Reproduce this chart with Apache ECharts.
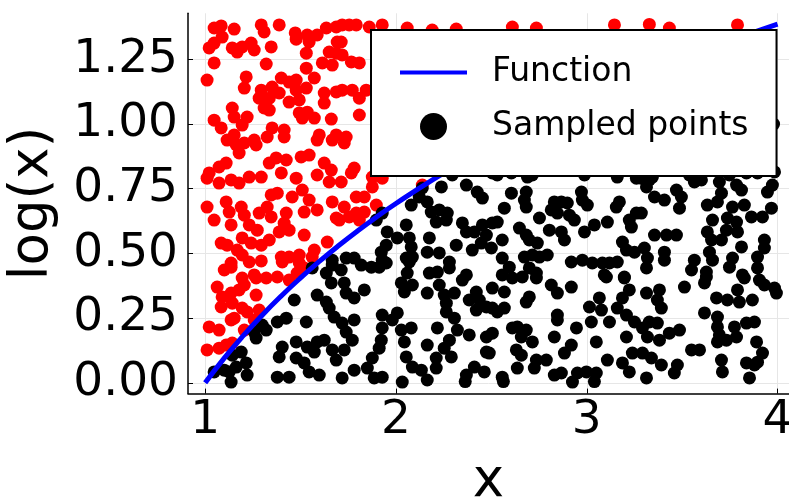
<!DOCTYPE html>
<html>
<head>
<meta charset="utf-8">
<script src="https://cdn.jsdelivr.net/npm/echarts@6/dist/echarts.min.js"></script>
<style>html,body{margin:0;background:#fff}#chart{width:789px;height:498px}</style>
</head>
<body>
<div id="chart"></div>
<script>
// log(x)
var lineX = [1.0, 1.1, 1.2, 1.3, 1.4, 1.5, 1.6, 1.7, 1.8, 1.9, 2.0, 2.2, 2.4, 2.6, 2.8, 3.0, 3.2, 3.4, 3.6, 3.8, 4.0];
var lineY = [0, 0.0953, 0.1823, 0.2624, 0.3365, 0.4055, 0.47, 0.5306, 0.5878, 0.6419, 0.6931, 0.7885, 0.8755, 0.9555, 1.0296, 1.0986, 1.1632, 1.2238, 1.2809, 1.335, 1.3863];

// points above the curve (red)
var redPoints = [
[1.047,1.371],[1.084,1.379],[1.089,1.336],[1.152,1.367],[1.021,1.294],[1.047,1.313],[1.142,1.294],[1.168,1.278],[1.194,1.298],[1.241,1.313],
[1.257,1.286],[1.294,1.383],[1.309,1.356],[1.388,1.383],[1.346,1.298],[1.472,1.352],[1.477,1.328],[1.535,1.344],[1.545,1.317],[1.587,1.344],
[1.635,1.371],[1.687,1.375],[1.692,1.317],[1.530,1.274],[1.650,1.278],[1.687,1.274],[1.047,1.236],[1.320,1.232],[1.614,1.236],[1.666,1.228],
[1.530,1.216],[1.010,1.170],[1.215,1.182],[1.205,1.139],[1.572,1.178],[1.530,1.139],[1.399,1.178],[1.351,1.143],[1.294,1.131],[1.283,1.100],
[1.336,1.100],[1.388,1.120],[1.440,1.162],[1.477,1.170],[1.477,1.131],[1.440,1.085],[1.493,1.093],[1.687,1.124],[1.624,1.120],[1.624,1.081],
[1.142,1.062],[1.152,1.027],[1.220,1.027],[1.194,0.996],[1.047,1.015],[1.084,0.985],[1.309,1.062],[1.336,1.054],[1.493,1.043],[1.535,1.046],
[1.509,1.023],[1.572,1.023],[1.661,1.019],[1.351,0.985],[1.414,0.977],[1.598,0.958],[1.687,0.958],[1.152,0.958],[1.257,0.938],
[1.718,1.383],[1.755,1.383],[1.792,1.383],[1.860,1.375],[1.928,1.383],[2.059,1.371],[2.190,1.363],[1.713,1.317],[1.718,1.267],[1.766,1.240],
[1.808,1.236],[1.718,1.131],[1.771,1.131],[1.808,1.100],[1.844,1.131],[1.808,1.035],[1.739,0.950],
[2.610,1.375],[2.736,1.371],[3.145,1.383],[3.328,1.385],[3.433,1.371],[3.790,1.383],[2.316,1.367],
[1.115,0.938],[1.163,0.919],[1.205,0.927],[1.267,0.919],[1.325,0.950],[1.414,0.950],[1.178,0.888],[1.587,0.938],[1.666,0.938],[1.073,0.834],
[1.110,0.849],[1.021,0.811],[1.010,0.791],[1.073,0.772],[1.136,0.784],[1.178,0.772],[1.231,0.795],[1.294,0.795],[1.336,0.849],[1.372,0.869],
[1.425,0.861],[1.399,0.811],[1.503,0.873],[1.545,0.880],[1.624,0.849],[1.661,0.822],[1.587,0.803],[1.477,0.791],[1.650,0.776],[1.509,0.745],
[1.456,0.718],[1.346,0.726],[1.378,0.733],[1.010,0.679],[1.047,0.629],[1.110,0.699],[1.126,0.660],[1.189,0.679],[1.205,0.648],[1.283,0.656],
[1.325,0.679],[1.346,0.641],[1.425,0.656],[1.414,0.617],[1.519,0.660],[1.545,0.706],[1.587,0.668],[1.666,0.699],[1.687,0.637],[1.136,0.610],
[1.231,0.610],[1.273,0.590],[1.388,0.583],[1.440,0.590],[1.519,0.571],[1.084,0.540],[1.115,0.532],[1.194,0.560],[1.241,0.540],[1.294,0.532],
[1.336,0.552],[1.168,0.513],[1.194,0.494],[1.640,0.544],[1.399,0.486],[1.440,0.486],[1.493,0.494],[1.572,0.513],[1.561,0.486],[1.231,0.467],
[1.294,0.471],[1.136,0.463],
[1.100,0.436],[1.136,0.447],[1.404,0.467],[1.493,0.463],[1.257,0.417],[1.194,0.405],[1.063,0.370],[1.089,0.332],[1.136,0.347],[1.178,0.359],
[1.205,0.378],[1.267,0.405],[1.320,0.405],[1.378,0.409],[1.440,0.397],[1.482,0.424],[1.519,0.444],[1.084,0.293],[1.142,0.308],[1.267,0.339],
[1.194,0.289],[1.220,0.274],[1.283,0.281],[1.021,0.216],[1.073,0.204],[1.136,0.243],[1.152,0.250],[1.205,0.204],[1.257,0.243],[1.010,0.127],
[1.073,0.134],[1.110,0.146],[1.142,0.154],
[1.729,0.927],[1.781,0.830],[1.766,0.811],[1.713,0.776],[1.876,0.795],[1.928,0.791],[1.902,0.822],[1.876,0.757],[1.792,0.718],[1.834,0.718],
[1.729,0.679],[1.792,0.656],[1.834,0.660],[1.897,0.687],[1.703,0.629],[1.808,0.629],[1.755,0.641],[2.080,0.830],[2.122,0.830],[2.138,0.764]
];

// points below the curve (black)
var blackPoints = [
[1.561,0.444],[1.635,0.424],[1.661,0.386],[1.666,0.455],[1.467,0.320],[1.587,0.339],[1.635,0.312],[1.650,0.289],[1.676,0.254],[1.425,0.250],
[1.378,0.235],[1.530,0.235],[1.299,0.223],[1.257,0.196],[1.320,0.204],[1.267,0.173],[1.404,0.138],[1.477,0.158],[1.388,0.100],[1.477,0.096],
[1.519,0.077],[1.535,0.138],[1.587,0.158],[1.624,0.165],[1.572,0.119],[1.666,0.127],[1.687,0.088],[1.598,0.030],[1.545,0.042],[1.440,0.022],
[1.378,0.022],[1.189,0.119],[1.142,0.107],[1.215,0.077],[1.163,0.061],[1.126,0.042],[1.136,0.003],[1.220,0.030],[1.047,0.042],[1.100,0.049],
[1.666,0.474],
[2.138,0.753],[2.122,0.718],[2.080,0.687],[2.238,0.757],[2.295,0.803],[2.348,0.822],[2.400,0.822],[2.369,0.764],[2.426,0.737],[2.453,0.714],
[2.164,0.699],[2.185,0.660],[2.227,0.668],[2.269,0.656],[2.211,0.621],[2.264,0.629],[1.928,0.656],[1.897,0.629],[2.054,0.610],[2.348,0.618],
[2.369,0.583],[2.411,0.583],[2.453,0.610],[2.474,0.571],[1.954,0.583],[2.007,0.560],[2.070,0.560],[2.080,0.525],[2.175,0.560],[1.949,0.532],
[2.164,0.505],[2.227,0.502],[2.316,0.532],[2.400,0.513],[2.447,0.540],[1.923,0.505],[1.928,0.474],[2.054,0.482],[2.086,0.486],[2.280,0.467],
[1.739,0.482],[1.781,0.482],
[1.713,0.436],[1.818,0.455],[1.871,0.447],[1.912,0.447],[1.949,0.463],[2.070,0.467],[2.059,0.424],[2.028,0.386],[2.086,0.378],[2.044,0.351],
[1.729,0.386],[1.739,0.347],[1.781,0.328],[1.834,0.359],[2.175,0.424],[2.217,0.428],[2.280,0.444],[2.369,0.417],[2.348,0.397],[2.227,0.378],
[2.164,0.347],[2.253,0.339],[2.306,0.347],[2.264,0.308],[2.384,0.320],[2.421,0.351],[2.437,0.320],[2.421,0.281],[2.474,0.293],[2.264,0.274],
[2.306,0.250],[1.928,0.262],[1.981,0.243],[2.007,0.270],[1.781,0.243],[1.718,0.231],[1.739,0.196],[1.771,0.165],[1.729,0.127],[1.928,0.212],
[1.923,0.165],[1.912,0.134],[1.876,0.096],[1.850,0.057],[1.781,0.049],[1.718,0.019],[1.886,0.019],[1.928,0.022],[2.028,0.204],[2.080,0.212],
[2.044,0.158],[2.054,0.100],[2.086,0.061],[2.133,0.049],[2.164,0.011],[2.033,0.003],[2.164,0.146],[2.211,0.096],[2.217,0.212],[2.280,0.165],
[2.253,0.134],[2.290,0.100],[2.322,0.204],[2.384,0.185],[2.474,0.177],[2.474,0.119],[2.211,0.057],[2.369,0.030],[2.411,0.061],[2.463,0.042],
[2.505,0.811],[2.531,0.803],[2.605,0.811],[2.689,0.795],[2.715,0.803],[2.762,0.822],[2.699,0.830],[2.988,0.803],[3.160,0.795],[3.260,0.791],
[2.605,0.733],[2.683,0.737],[2.673,0.706],[2.683,0.679],[2.568,0.675],[2.830,0.699],[2.867,0.699],[2.898,0.695],[2.814,0.668],[2.846,0.656],
[2.909,0.648],[2.935,0.629],[2.972,0.737],[2.977,0.706],[3.003,0.687],[3.171,0.699],[3.155,0.679],[3.260,0.656],[3.223,0.629],[3.234,0.602],
[2.505,0.618],[2.531,0.621],[2.752,0.637],[2.647,0.598],[2.683,0.571],[2.699,0.552],[2.741,0.540],[2.804,0.590],[2.867,0.583],[2.883,0.552],
[2.988,0.583],[3.040,0.610],[3.108,0.621],[2.557,0.552],[2.500,0.521],[3.187,0.544],[3.208,0.513],[3.250,0.505],[2.557,0.482],[2.673,0.486],
[2.715,0.494],[2.752,0.486],[2.793,0.494],[2.594,0.447],[2.557,0.417],[2.699,0.444],[2.736,0.424],[2.919,0.467],[2.977,0.474],[3.029,0.463],
[3.082,0.463],[3.119,0.463],[3.160,0.467],[3.092,0.417],[3.197,0.409],
[3.286,0.791],[3.328,0.784],[3.344,0.795],[3.313,0.757],[3.418,0.830],[3.486,0.822],[3.538,0.803],[3.564,0.776],[3.601,0.784],[3.580,0.815],
[3.695,0.776],[3.706,0.733],[3.685,0.699],[3.748,0.803],[3.785,0.764],[3.811,0.745],[3.837,0.811],[3.895,0.811],[3.984,0.815],[3.973,0.764],
[3.947,0.737],[3.355,0.718],[3.407,0.706],[3.470,0.745],[3.496,0.718],[3.486,0.675],[3.286,0.656],[3.632,0.687],[3.764,0.679],[3.826,0.687],
[3.863,0.641],[3.921,0.641],[3.968,0.675],[3.659,0.629],[3.632,0.583],[3.654,0.552],[3.706,0.552],[3.732,0.590],[3.737,0.637],[3.785,0.621],
[3.790,0.583],[3.355,0.571],[3.418,0.571],[3.470,0.571],[3.931,0.552],[3.931,0.521],[3.811,0.525],[3.302,0.521],[3.318,0.482],[3.313,0.444],
[3.407,0.505],[3.407,0.474],[3.643,0.505],[3.659,0.474],[3.564,0.474],[3.549,0.436],[3.764,0.482],[3.748,0.447],[3.895,0.486],[3.895,0.444],
[3.627,0.428],[3.816,0.417],[3.979,1.000],
[2.505,0.366],[2.568,0.351],[2.610,0.405],[2.662,0.409],[2.736,0.405],[2.814,0.378],[2.846,0.347],[2.919,0.370],[3.103,0.409],[3.197,0.405],
[3.223,0.359],[2.505,0.289],[2.568,0.289],[2.531,0.274],[2.699,0.332],[2.683,0.312],[2.846,0.262],[2.846,0.243],[3.014,0.293],[3.066,0.328],
[3.077,0.281],[3.024,0.235],[3.119,0.235],[3.160,0.289],[3.187,0.328],[3.208,0.262],[3.250,0.235],[2.505,0.192],[2.610,0.212],[2.636,0.216],
[2.683,0.204],[2.657,0.177],[2.715,0.158],[2.946,0.212],[2.830,0.177],[3.050,0.158],[3.208,0.177],[2.919,0.146],[2.883,0.115],[2.631,0.127],
[2.657,0.107],[2.489,0.115],[2.736,0.088],[2.788,0.088],[2.725,0.057],[3.108,0.088],[3.187,0.077],[3.239,0.115],[2.636,0.057],[2.557,0.022],
[2.830,0.030],[2.867,0.038],[2.925,0.003],[2.951,0.038],[2.998,0.042],[3.050,0.038],[3.223,0.042],[2.363,0.005],[2.563,0.005],[3.040,0.005],
[3.313,0.347],[3.381,0.359],[3.370,0.320],[3.391,0.289],[3.512,0.370],[3.617,0.386],[3.627,0.409],[3.826,0.405],[3.790,0.359],[3.905,0.397],
[3.931,0.378],[3.984,0.366],[3.994,0.347],[3.680,0.328],[3.737,0.320],[3.800,0.312],[3.868,0.320],[3.617,0.270],[3.685,0.254],[3.328,0.235],
[3.370,0.231],[3.486,0.204],[3.292,0.212],[3.685,0.216],[3.695,0.185],[3.685,0.158],[3.732,0.165],[3.774,0.216],[3.785,0.177],[3.837,0.231],
[3.879,0.235],[3.318,0.177],[3.381,0.165],[3.433,0.192],[3.890,0.158],[3.921,0.115],[3.549,0.127],[3.591,0.127],[3.292,0.115],[3.339,0.096],
[3.391,0.069],[3.459,0.038],[3.475,0.069],[3.706,0.088],[3.711,0.042],[3.837,0.077],[3.879,0.069],[3.895,0.080],[3.313,0.019],[3.853,0.019]
];

var xTicks = [1, 2, 3, 4];
var yTicks = [0, 0.25, 0.5, 0.75, 1.0, 1.25];

var font = 'DejaVu Sans';
var myChart = echarts.init(document.getElementById('chart'));

var linePoints = lineX.map(function (x, i) { return [x, lineY[i]]; });

var option = {
  animation: false,
  backgroundColor: '#fff',
  grid: { left: 188, right: 0, top: 13.3, bottom: 104.4, outerBoundsMode: 'none', containLabel: false },
  legend: {
    data: [
      { name: 'Function', itemStyle: { color: 'rgba(0,0,0,0)', borderWidth: 0 }, lineStyle: { width: 4 } },
      { name: 'Sampled points' }
    ],
    orient: 'vertical',
    left: 371, top: 30,
    padding: [26, 28, 33, 27],
    itemWidth: 67, itemHeight: 27, itemGap: 21,
    backgroundColor: '#fff',
    borderColor: '#000', borderWidth: 2,
    selectedMode: false,
    textStyle: { fontFamily: font, fontSize: 33, color: '#000', lineHeight: 27, padding: [0, 0, 0, 20] }
  },
  xAxis: {
    type: 'value', min: 0.91, max: 4.06,
    name: 'x', nameLocation: 'middle', nameGap: 62,
    nameTextStyle: { fontFamily: font, fontSize: 53, color: '#000' },
    axisLine: { onZero: false, lineStyle: { color: '#000', width: 1.5 } },
    axisTick: { inside: true, length: 5, customValues: xTicks, lineStyle: { color: '#000' } },
    axisLabel: { customValues: xTicks, margin: 4, fontFamily: font, fontSize: 47, color: '#000' },
    splitLine: { show: true, lineStyle: { color: '#e6e6e6', width: 1 } }
  },
  yAxis: {
    type: 'value', min: -0.0416, max: 1.4279,
    name: 'log(x)', nameLocation: 'middle', nameGap: 128,
    nameTextStyle: { fontFamily: font, fontSize: 53, color: '#000' },
    axisLine: { show: true, onZero: false, lineStyle: { color: '#000', width: 1.5 } },
    axisTick: { show: true, inside: true, length: 5, customValues: yTicks, lineStyle: { color: '#000' } },
    axisLabel: {
      customValues: yTicks, margin: 10, fontFamily: font, fontSize: 47, color: '#000',
      formatter: function (v) { return v.toFixed(2); }
    },
    splitLine: { show: true, lineStyle: { color: '#e6e6e6', width: 1 } }
  },
  series: [
    {
      name: 'Function', type: 'line', data: linePoints, smooth: true,
      showSymbol: false, symbol: 'none',
      lineStyle: { color: '#0000ff', width: 5 }, itemStyle: { color: '#0000ff' }
    },
    {
      name: 'above', type: 'scatter', data: redPoints, symbolSize: 13,
      itemStyle: { color: '#ff0000', opacity: 1 }
    },
    {
      name: 'Sampled points', type: 'scatter', data: blackPoints, symbolSize: 13,
      itemStyle: { color: '#000000', opacity: 1 }
    }
  ]
};
myChart.setOption(option);
</script>
</body>
</html>
